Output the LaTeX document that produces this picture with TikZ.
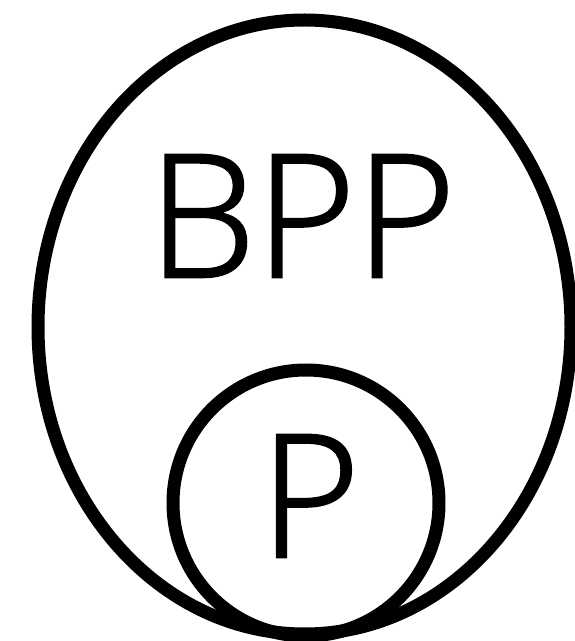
\documentclass[tikz,border=0pt]{standalone}
\usepackage{fontspec}
\newfontfamily\lblfont[FakeBold=1.5]{Open Sans Light}
\usetikzlibrary{shapes.geometric}
\begin{document}
\begin{tikzpicture}[x=1pt,y=1pt,
  ring/.style={draw=black,line width=13pt},
  lbl/.style={inner sep=0pt,font=\lblfont\fontsize{171}{171}\selectfont}]
\useasboundingbox (0,0) rectangle (575,641);
\node[ring,ellipse,minimum width=533pt,minimum height=614pt,inner sep=0pt] (bpp) at (304.5,314) {};
\node[ring,circle,minimum size=266pt,inner sep=0pt] (p) at (306,138) {};
\node[lbl,anchor=base] (tb) at (302,364) {BPP};
\node[lbl,anchor=base] (tp) at (310,84) {P};
\end{tikzpicture}
\end{document}
